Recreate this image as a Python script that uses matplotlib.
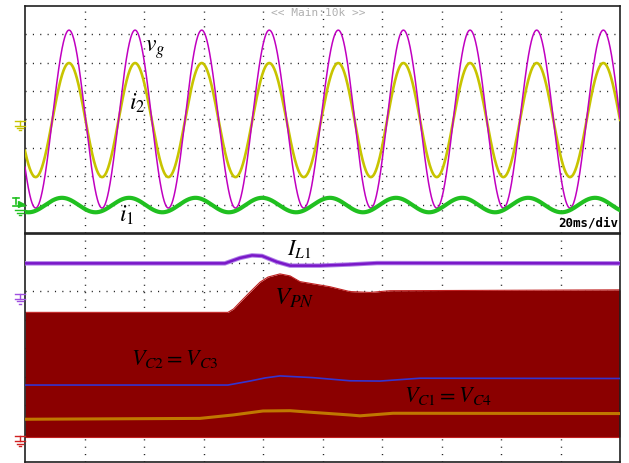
import numpy as np
import matplotlib
matplotlib.use("Agg")
import matplotlib.pyplot as plt
from matplotlib.lines import Line2D

plt.rcParams['mathtext.fontset'] = 'stix'
plt.rcParams['lines.scale_dashes'] = False

# ---------------- data ----------------
# top panel: time in ms (20 ms/div, 10 div), level in divisions (8 div)
vg_peak_times = [14.8, 37.0, 59.4, 82.1, 105.3, 127.2, 149.6, 172.0, 194.4]
vg_high, vg_low = 7.15, 0.88
i2_peak_times = [14.8, 37.0, 59.4, 82.1, 105.3, 127.2, 149.6, 172.0, 194.4]
i2_high, i2_low = 5.99, 1.97
i1_peak_times = [12.4, 35.0, 57.3, 79.7, 102.5, 124.7, 146.9, 169.1, 191.6]
i1_high, i1_low = 1.24, 0.73

# bottom panel: time in ms, level in divisions
il1_t = [0, 67.2, 72.3, 76.3, 79.7, 84.7, 89.1, 99.2, 109.2, 118.3, 200]
il1_v = [6.97, 6.97, 7.16, 7.25, 7.23, 7.02, 6.89, 6.89, 6.93, 6.98, 6.97]

vpn_t = [0, 68.2, 70.1, 72.3, 75.6, 79.0, 81.7, 85.7, 89.1, 92.4, 102.5, 109.2, 116.0, 122.7, 200]
vpn_top = [5.25, 5.25, 5.37, 5.61, 5.96, 6.31, 6.49, 6.60, 6.53, 6.33, 6.15, 5.98, 5.95, 6.01, 6.04]
vpn_bottom = 0.88

vc23_t = [0, 68.2, 75.6, 80.7, 85.7, 96.8, 109.2, 119.3, 132.8, 200]
vc23_v = [2.70, 2.70, 2.84, 2.95, 3.02, 2.96, 2.85, 2.84, 2.94, 2.93]

vc14_t = [0, 58.8, 69.9, 80.0, 89.1, 96.8, 109.2, 112.6, 123.7, 200]
vc14_v = [1.50, 1.53, 1.65, 1.79, 1.80, 1.74, 1.65, 1.62, 1.71, 1.70]

# ---------------- layout ----------------
W, H = 629, 463
fig = plt.figure(figsize=(W / 100, H / 100), dpi=100)
L, R = 25, 620
ax1 = fig.add_axes([L / W, 1 - 233 / H, (R - L) / W, (233 - 6) / H])
ax2 = fig.add_axes([L / W, 1 - 462 / H, (R - L) / W, (462 - 234) / H])

for ax in (ax1, ax2):
    ax.set_xlim(0, 200)
    ax.set_ylim(0, 8)
    ax.set_xticks(np.arange(20, 200, 20))
    ax.set_yticks(np.arange(1, 8, 1))
    ax.tick_params(length=0, labelbottom=False, labelleft=False)
    ax.grid(True, color='#202020', linewidth=1.0, linestyle=(0, (0.8, 4.5)))
    ax.set_axisbelow(True)
    for s in ax.spines.values():
        s.set_linewidth(1.2)
        s.set_color('#202020')


def periodic(t, peaks, hi, lo):
    peaks = np.asarray(peaks, float)
    per = np.mean(np.diff(peaks))
    ext = np.concatenate([[peaks[0] - per], peaks, [peaks[-1] + per]])
    ph = np.interp(t, ext, 2 * np.pi * np.arange(len(ext)))
    return (hi + lo) / 2 + (hi - lo) / 2 * np.cos(ph)


t = np.linspace(0, 200, 3000)
ax1.plot(t, periodic(t, i2_peak_times, i2_high, i2_low), color='#c8c400', lw=1.9, zorder=3)
ax1.plot(t, periodic(t, vg_peak_times, vg_high, vg_low), color='#c000c0', lw=1.1, zorder=4)
ax1.plot(t, periodic(t, i1_peak_times, i1_high, i1_low), color='#20c020', lw=3.0, zorder=5)

# bottom panel
ax2.fill_between(vpn_t, vpn_bottom, vpn_top, color='#8b0000', lw=0, zorder=2)
ax2.plot(vpn_t, vpn_top, color='#c02020', lw=0.8, zorder=2)
ax2.axhline(vpn_bottom, color='#c02020', lw=0.8, zorder=2)
ax2.plot(il1_t, il1_v, color='#b080e8', lw=3.2, zorder=3)
ax2.plot(il1_t, il1_v, color='#7a18c8', lw=1.8, zorder=3)
ax2.plot(vc23_t, vc23_v, color='#3434d0', lw=1.2, zorder=3)
ax2.plot(vc14_t, vc14_v, color='#c07800', lw=2.2, zorder=3)


def fx(x):
    return x / W


def fy(y):
    return 1 - y / H


def line(xs, ys, color, lw=1.0):
    fig.add_artist(Line2D([fx(x) for x in xs], [fy(y) for y in ys],
                          color=color, lw=lw, transform=fig.transFigure))


def ground(y0, color):
    line([15, 25], [y0, y0], color)
    line([19.5, 19.5], [y0, y0 + 5], color)
    line([14.5, 24.5], [y0 + 5, y0 + 5], color)
    line([16.5, 22.5], [y0 + 7.5, y0 + 7.5], color)
    line([18.5, 20.5], [y0 + 10, y0 + 10], color)


ground(120.5, '#c8c400')
ground(293.5, '#a050e0')
ground(436, '#d02020')
# green channel marker
line([13, 19], [197.5, 197.5], '#20c020', 1.2)
line([16, 16], [197.5, 204], '#20c020', 1.2)
fig.add_artist(Line2D([fx(21)], [fy(204)], marker='>', ms=5, color='#20c020',
                      transform=fig.transFigure))
line([13, 25], [206, 206], '#20c020', 1.2)
line([14.5, 24.5], [210, 210], '#20c020')
line([16.5, 22.5], [212.5, 212.5], '#20c020')
line([18.5, 20.5], [215, 215], '#20c020')

# texts
fig.text(fx(271), fy(13), '<< Main:10k >>', color='#b0b0b0', fontsize=8,
         family='DejaVu Sans Mono', va='center', ha='left')
fig.text(fx(618), fy(223), '20ms/div', color='black', fontsize=9,
         family='DejaVu Sans Mono', va='center', ha='right', weight='bold')

fs = 17
fig.text(fx(145), fy(52), r'$v_g$', fontsize=fs, va='baseline')
fig.text(fx(129), fy(110), r'$i_2$', fontsize=fs, va='baseline')
fig.text(fx(119), fy(222), r'$i_1$', fontsize=fs, va='baseline')
fig.text(fx(287), fy(255), r'$I_{L1}$', fontsize=16, va='baseline')
fig.text(fx(274), fy(305), r'$V_{PN}$', fontsize=18, va='baseline')
fig.text(fx(131), fy(365), r'$V_{C2} = V_{C3}$', fontsize=16, va='baseline')
fig.text(fx(404), fy(402), r'$V_{C1} = V_{C4}$', fontsize=16, va='baseline')

fig.savefig('out.png', dpi=100)
